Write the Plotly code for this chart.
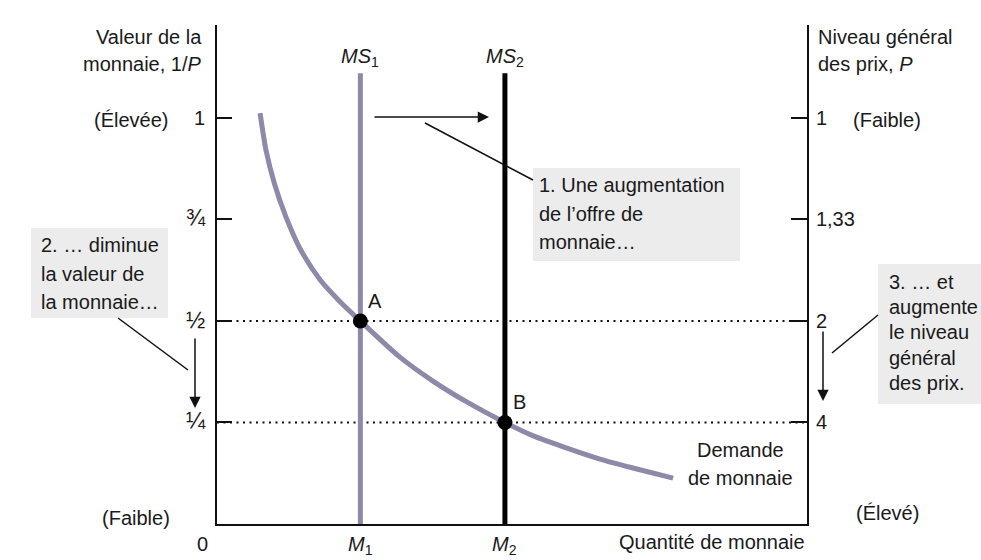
import plotly.graph_objects as go

# ---------------- data ----------------
value_ticks = [0.25, 0.5, 0.75, 1.0]
value_tick_labels = ["¼", "½", "¾", "1"]
price_tick_labels = ["4", "2", "1,33", "1"]

supply_names = ["<i>MS</i><sub>1</sub>", "<i>MS</i><sub>2</sub>"]
quantity_labels = ["<i>M</i><sub>1</sub>", "<i>M</i><sub>2</sub>"]
M_values = [2.43, 4.88]          # M1, M2
supply_top = 1.11                # top of the vertical supply lines
equilibrium_values = [0.5, 0.25] # value of money at A and B
equilibrium_names = ["A", "B"]

demand_x = [0.73, 0.83, 0.97, 1.17, 1.42, 1.75, 2.09, 2.43, 3.10, 3.66,
            4.24, 4.88, 5.36, 5.93, 6.49, 7.05, 7.73]
demand_y = [1.012, 0.921, 0.840, 0.756, 0.675, 0.601, 0.547, 0.50, 0.411, 0.352,
            0.300, 0.25, 0.217, 0.187, 0.160, 0.138, 0.113]

x_max = 10.0
y_max = 1.229

# ---------------- layout helpers ----------------
W, H = 981, 560
L, R, T, B = 217, 807, 25, 524
FONT = "Liberation Sans, Arial, sans-serif"
TXT = "#1a1a1a"
CURVE = "#8d89a9"
BOX = "#ececec"


def px(x):
    return (x - L) / (R - L)


def py(y):
    return (B - y) / (B - T)


fig = go.Figure()

# dotted guide lines at A and B
for v in equilibrium_values:
    fig.add_trace(go.Scatter(x=[0, x_max], y=[v, v], mode="lines",
                             line=dict(color="#111", width=2.2, dash="2px,4.5px"),
                             hoverinfo="skip", showlegend=False))

# money demand curve
fig.add_trace(go.Scatter(x=demand_x, y=demand_y, mode="lines",
                         line=dict(color=CURVE, width=5, shape="spline", smoothing=0.7),
                         showlegend=False, hoverinfo="skip"))

# money supply lines
fig.add_trace(go.Scatter(x=[M_values[0], M_values[0]], y=[0, supply_top], mode="lines",
                         line=dict(color=CURVE, width=5), showlegend=False, hoverinfo="skip"))
fig.add_trace(go.Scatter(x=[M_values[1], M_values[1]], y=[0, supply_top], mode="lines",
                         line=dict(color="#000", width=5), showlegend=False, hoverinfo="skip"))

# equilibrium points
fig.add_trace(go.Scatter(x=M_values, y=equilibrium_values, mode="markers",
                         marker=dict(color="#000", size=15), showlegend=False,
                         hoverinfo="skip"))

# dummy trace on right axis
fig.add_trace(go.Scatter(x=[None], y=[None], yaxis="y2", showlegend=False))

annotations = []


def text(s, x, y, xanchor="center", size=20, xref="paper", yref="paper"):
    annotations.append(dict(text=s, x=x, y=y, xref=xref, yref=yref,
                            xanchor=xanchor, yanchor="middle", showarrow=False,
                            font=dict(family=FONT, size=size, color=TXT)))


# axis titles
text("Valeur de la", px(204), py(37), "right")
text("monnaie, 1/<i>P</i>", px(204), py(64), "right")
text("Niveau général", px(816), py(37), "left")
text("des prix, <i>P</i>", px(816), py(64), "left")
text("(Élevée)", px(92), py(120), "left")
text("(Faible)", px(851), py(120), "left")
text("(Faible)", px(100), py(518), "left")
text("(Élevé)", px(854), py(513), "left")
text("0", px(202), py(544))
text("Quantité de monnaie", px(807), py(542), "right")

# supply labels
for name, m in zip(supply_names, M_values):
    annotations.append(dict(text=name, x=m, y=py(58), xref="x", yref="paper",
                            showarrow=False, xanchor="center", yanchor="middle",
                            font=dict(family=FONT, size=20, color=TXT)))
# quantity labels
for name, m in zip(quantity_labels, M_values):
    annotations.append(dict(text=name, x=m, y=py(545), xref="x", yref="paper",
                            showarrow=False, xanchor="center", yanchor="middle",
                            font=dict(family=FONT, size=20, color=TXT)))
# point labels
for name, m, v in zip(equilibrium_names, M_values, equilibrium_values):
    annotations.append(dict(text=name, x=m, y=v, xref="x", yref="y",
                            showarrow=False, xanchor="center", yanchor="middle",
                            xshift=15, yshift=20,
                            font=dict(family=FONT, size=20, color=TXT)))

# demand label
text("Demande", px(740), py(450))
text("de monnaie", px(740), py(478))

# boxes
shapes = []
for (x0, y0, x1, y1) in [(533, 168, 740, 261), (31, 228, 168, 318), (878, 264, 985, 404)]:
    shapes.append(dict(type="rect", xref="paper", yref="paper",
                       x0=px(x0), x1=px(x1), y0=py(y1), y1=py(y0),
                       fillcolor=BOX, line=dict(width=0), layer="below"))

for i, s in enumerate(["1. Une augmentation", "de l’offre de", "monnaie…"]):
    text(s, px(537), py(185 + 28.5 * i), "left")
for i, s in enumerate(["2. … diminue", "la valeur de", "la monnaie…"]):
    text(s, px(39), py(245 + 28.5 * i), "left")
for i, s in enumerate(["3. … et", "augmente", "le niveau", "général", "des prix."]):
    text(s, px(887), py(282 + 25.2 * i), "left")

# pointer lines
for (x0, y0, x1, y1) in [(425, 123, 533, 180), (118, 318, 188, 370), (832, 353, 878, 315)]:
    shapes.append(dict(type="line", xref="paper", yref="paper",
                       x0=px(x0), y0=py(y0), x1=px(x1), y1=py(y1),
                       line=dict(color="#111", width=1.5)))

# arrows
for (hx, hy, tx, ty) in [(489, 117, 373, 117), (195, 408, 195, 337), (823, 401, 823, 330)]:
    annotations.append(dict(text="", x=px(hx), y=py(hy), xref="paper", yref="paper",
                            ax=tx - hx, ay=ty - hy, axref="pixel", ayref="pixel",
                            showarrow=True, arrowhead=2, arrowsize=1.5, arrowwidth=1.5,
                            arrowcolor="#111"))

axis_font = dict(family=FONT, size=20, color=TXT)
frac_ticktext = [f"<span style='font-size:23px'>{t}</span>" if t != "1" else t
                 for t in value_tick_labels]

fig.update_layout(
    width=W, height=H,
    margin=dict(l=L, r=W - R, t=T, b=H - B),
    paper_bgcolor="white", plot_bgcolor="white",
    showlegend=False,
    xaxis=dict(range=[0, x_max], showgrid=False, zeroline=False,
               showline=True, linecolor="#111", linewidth=1.8,
               tickvals=[], showticklabels=False, fixedrange=True),
    yaxis=dict(range=[0, y_max], showgrid=False, zeroline=False,
               showline=True, linecolor="#111", linewidth=1.8,
               tickvals=value_ticks, ticktext=frac_ticktext,
               ticks="inside", ticklen=15, tickwidth=1.5, tickcolor="#111",
               tickfont=axis_font, ticklabelstandoff=6),
    yaxis2=dict(range=[0, y_max], overlaying="y", side="right",
                showgrid=False, zeroline=False,
                showline=True, linecolor="#111", linewidth=1.8,
                tickvals=value_ticks, ticktext=price_tick_labels,
                ticks="inside", ticklen=16, tickwidth=1.5, tickcolor="#111",
                tickfont=axis_font, ticklabelstandoff=3),
    annotations=annotations,
    shapes=shapes,
)

fig.write_html("out.html", config={"displayModeBar": False},
               post_script="document.body.style.margin='0';document.body.style.overflow='hidden';")
